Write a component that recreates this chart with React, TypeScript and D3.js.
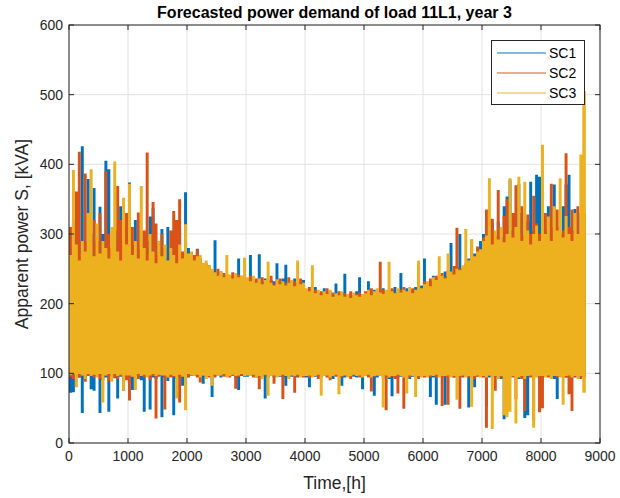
import React from 'react';
import * as d3 from 'd3';

// ---- data (per 50-hour bin: upper / lower envelope of each series, kVA) ----
const BIN_HOURS = 50;
const LAST_HOUR = 8760;

const seriesNames = ['SC1', 'SC2', 'SC3'];
const seriesColors = ['#0072BD', '#D95319', '#EDB120'];

const xTicks = [0, 1000, 2000, 3000, 4000, 5000, 6000, 7000, 8000, 9000];
const yTicks = [0, 100, 200, 300, 400, 500, 600];

const sc1Hi = [
  280, 320, 270, 290, 426, 265, 379, 300, 366, 275, 339, 300, 405, 393, 270, 290, 305, 340, 268, 310,
  374, 285, 320, 270, 305, 262, 290, 325, 337, 270, 290, 307, 265, 310, 275, 290, 262, 305, 272, 360,
  280, 262, 268, 279, 265, 255, 258, 248, 244, 291, 240, 246, 236, 242, 238, 240, 236, 265, 240, 238,
  236, 270, 234, 228, 271, 232, 236, 228, 234, 232, 258, 230, 236, 256, 228, 232, 236, 230, 226, 234,
  220, 215, 218, 224, 216, 214, 222, 215, 218, 214, 229, 212, 216, 243, 212, 215, 210, 218, 238, 212,
  212, 232, 218, 220, 216, 214, 222, 218, 214, 220, 224, 216, 244, 218, 222, 216, 220, 224, 218, 226,
  265, 228, 232, 240, 236, 242, 238, 246, 240, 287, 246, 252, 300, 250, 256, 265, 262, 272, 268, 290,
  300, 292, 322, 316, 290, 318, 295, 340, 354, 378, 305, 290, 372, 330, 298, 318, 375, 305, 385, 382,
  330, 305, 340, 300, 371, 310, 295, 340, 371, 385, 305, 336, 295, 330, 300,
];
const sc1Lo = [
  72, 73, 95, 94, 43, 92, 96, 77, 75, 95, 43, 90, 94, 45, 96, 93, 64, 95, 75, 94,
  88, 76, 96, 93, 90, 45, 95, 48, 94, 92, 96, 37, 94, 89, 95, 40, 92, 94, 82, 95,
  94, 96, 97, 95, 96, 85, 95, 96, 66, 96, 97, 94, 96, 95, 97, 96, 94, 76, 96, 95,
  95, 97, 96, 94, 96, 96, 64, 95, 97, 94, 96, 95, 94, 82, 97, 95, 96, 94, 97, 95,
  94, 80, 96, 95, 96, 94, 97, 95, 96, 92, 97, 95, 82, 94, 96, 97, 95, 94, 96, 77,
  96, 95, 97, 68, 94, 96, 97, 95, 92, 67, 97, 94, 95, 97, 96, 92, 95, 97, 94, 95,
  97, 95, 66, 94, 55, 96, 95, 55, 96, 97, 94, 95, 97, 94, 96, 51, 95, 80, 97, 96,
  96, 53, 94, 97, 95, 94, 92, 34, 95, 94, 97, 95, 92, 94, 36, 40, 95, 94, 97, 92,
  94, 95, 96, 94, 92, 63, 95, 97, 94, 95, 96, 94, 95, 97, 95,
];
const sc2Hi = [
  310, 275, 361, 418, 272, 387, 290, 268, 320, 290, 330, 270, 390, 300, 280, 262, 369, 320, 290, 330,
  290, 310, 265, 331, 278, 305, 417, 270, 346, 315, 268, 300, 280, 262, 305, 333, 320, 350, 275, 290,
  268, 274, 270, 278, 262, 258, 250, 255, 246, 240, 250, 238, 244, 236, 240, 245, 238, 242, 236, 240,
  232, 240, 228, 236, 230, 238, 226, 232, 240, 228, 232, 236, 226, 230, 238, 224, 232, 228, 236, 226,
  218, 224, 214, 220, 212, 218, 215, 222, 212, 216, 210, 218, 212, 215, 210, 218, 212, 214, 216, 210,
  218, 214, 222, 216, 212, 260, 220, 216, 218, 222, 216, 214, 220, 224, 216, 218, 222, 216, 256, 218,
  232, 226, 236, 230, 240, 236, 244, 238, 248, 242, 254, 309, 250, 246, 258, 262, 291, 264, 282, 275,
  295, 335, 300, 322, 298, 363, 290, 326, 350, 300, 330, 370, 300, 340, 295, 328, 300, 355, 315, 300,
  305, 330, 295, 372, 310, 335, 300, 305, 416, 310, 335, 300, 340, 295, 330,
];
const sc2Lo = [
  95, 92, 97, 94, 97, 88, 96, 97, 94, 97, 92, 95, 97, 89, 97, 94, 92, 96, 95, 90,
  61, 96, 97, 92, 97, 94, 95, 90, 96, 35, 95, 97, 48, 96, 94, 95, 97, 58, 96, 94,
  95, 97, 96, 94, 87, 96, 97, 94, 97, 94, 96, 97, 95, 97, 94, 96, 78, 95, 97, 97,
  97, 96, 94, 97, 77, 95, 97, 94, 96, 85, 95, 97, 63, 96, 94, 97, 72, 95, 97, 94,
  97, 94, 96, 97, 92, 95, 97, 94, 90, 96, 95, 97, 94, 97, 95, 92, 97, 96, 94, 95,
  97, 94, 74, 95, 96, 97, 94, 47, 96, 95, 92, 71, 97, 49, 95, 94, 97, 95, 92, 96,
  94, 97, 95, 96, 94, 97, 53, 95, 55, 97, 94, 96, 49, 95, 97, 94, 96, 92, 95, 97,
  94, 22, 96, 95, 75, 97, 94, 95, 92, 96, 94, 63, 95, 92, 46, 96, 94, 33, 95, 44,
  50, 96, 94, 95, 97, 94, 96, 95, 94, 70, 46, 95, 97, 92, 94,
];
const sc3Hi = [
  270, 392, 285, 262, 290, 275, 330, 393, 268, 315, 272, 290, 280, 265, 310, 404, 275, 262, 352, 285,
  372, 270, 290, 265, 369, 280, 262, 300, 275, 258, 290, 268, 285, 262, 280, 270, 258, 285, 265, 314,
  272, 275, 262, 268, 270, 258, 262, 255, 250, 245, 240, 246, 238, 270, 242, 236, 244, 238, 240, 266,
  238, 232, 240, 230, 236, 228, 234, 260, 230, 226, 235, 228, 232, 226, 230, 234, 225, 262, 228, 230,
  222, 218, 255, 215, 220, 212, 218, 214, 220, 210, 215, 212, 218, 210, 214, 208, 216, 212, 210, 214,
  215, 220, 212, 218, 222, 216, 214, 220, 260, 218, 215, 222, 216, 220, 218, 224, 215, 220, 262, 222,
  228, 232, 225, 238, 234, 268, 240, 236, 272, 246, 242, 250, 248, 255, 307, 262, 293, 268, 275, 278,
  290, 298, 380, 285, 305, 292, 310, 288, 300, 380, 295, 310, 382, 290, 375, 305, 285, 300, 312, 290,
  428, 300, 325, 290, 340, 305, 380, 295, 326, 300, 290, 330, 300, 414, 505,
];
const sc3Lo = [
  98, 99, 80, 99, 97, 92, 99, 96, 98, 94, 99, 58, 97, 99, 88, 99, 96, 98, 75, 97,
  97, 95, 76, 99, 96, 98, 94, 97, 99, 96, 98, 97, 97, 94, 98, 96, 64, 98, 95, 47,
  99, 97, 96, 98, 94, 97, 92, 96, 82, 98, 96, 97, 99, 94, 96, 98, 96, 97, 99, 96,
  97, 96, 98, 94, 96, 92, 98, 68, 96, 97, 94, 96, 98, 96, 92, 97, 96, 98, 94, 96,
  96, 97, 94, 96, 98, 68, 96, 97, 94, 96, 98, 70, 96, 97, 94, 96, 98, 96, 97, 94,
  96, 98, 94, 96, 97, 96, 51, 97, 94, 96, 96, 98, 96, 94, 71, 97, 96, 66, 96, 94,
  96, 94, 97, 96, 98, 94, 96, 96, 97, 94, 96, 62, 96, 97, 94, 96, 52, 96, 97, 94,
  96, 94, 97, 20, 96, 92, 96, 40, 37, 45, 96, 28, 94, 96, 92, 96, 97, 22, 94, 96,
  96, 94, 97, 92, 96, 96, 94, 55, 96, 97, 94, 96, 92, 96, 72,
];

const seriesHi = [sc1Hi, sc2Hi, sc3Hi];
const seriesLo = [sc1Lo, sc2Lo, sc3Lo];

// ---- layout ----
const W = 620;
const H = 498;
const PL = 69, PR = 600, PT = 25, PB = 443;
const FONT = '"Liberation Sans", Arial, Helvetica, sans-serif';
const AXIS = '#262626';

type Pt = { t: number; hi: number; lo: number };

export default function App() {
  const x = d3.scaleLinear().domain([0, 9000]).range([PL, PR]);
  const y = d3.scaleLinear().domain([0, 600]).range([PB, PT]);
  const tick = 5;

  const area = d3
    .area<Pt>()
    .x((d) => x(d.t))
    .y0((d) => y(d.lo))
    .y1((d) => y(d.hi))
    .curve(d3.curveStepAfter);

  const paths = seriesHi.map((hi, s) => {
    const pts: Pt[] = hi.map((h, i) => ({ t: i * BIN_HOURS, hi: h, lo: seriesLo[s][i] }));
    const last = pts[pts.length - 1];
    pts.push({ t: LAST_HOUR, hi: last.hi, lo: last.lo });
    return area(pts) || '';
  });

  return (
    <svg
      width={W}
      height={H}
      viewBox={`0 0 ${W} ${H}`}
      style={{ position: 'absolute', left: 0, top: 0, display: 'block', background: '#fff' }}
      fontFamily={FONT}
    >
      <rect x={0} y={0} width={W} height={H} fill="#fff" />
      {/* grid */}
      <g stroke="#e2e2e2" strokeWidth={1}>
        {xTicks.map((t) => (
          <line key={`gx${t}`} x1={x(t)} x2={x(t)} y1={PT} y2={PB} />
        ))}
        {yTicks.map((t) => (
          <line key={`gy${t}`} x1={PL} x2={PR} y1={y(t)} y2={y(t)} />
        ))}
      </g>
      {/* data */}
      {paths.map((d, s) => (
        <path key={`s${s}`} d={d} fill={seriesColors[s]} stroke="none" />
      ))}
      {/* axes box & ticks */}
      <rect x={PL} y={PT} width={PR - PL} height={PB - PT} fill="none" stroke={AXIS} strokeWidth={1} />
      <g stroke={AXIS} strokeWidth={1}>
        {xTicks.map((t) => (
          <g key={`tx${t}`}>
            <line x1={x(t)} x2={x(t)} y1={PB} y2={PB - tick} />
            <line x1={x(t)} x2={x(t)} y1={PT} y2={PT + tick} />
          </g>
        ))}
        {yTicks.map((t) => (
          <g key={`ty${t}`}>
            <line x1={PL} x2={PL + tick} y1={y(t)} y2={y(t)} />
            <line x1={PR} x2={PR - tick} y1={y(t)} y2={y(t)} />
          </g>
        ))}
      </g>
      {/* tick labels */}
      <g fill={AXIS} fontSize={14}>
        {xTicks.map((t) => (
          <text key={`lx${t}`} x={x(t)} y={PB + 18} textAnchor="middle">
            {t}
          </text>
        ))}
        {yTicks.map((t) => (
          <text key={`ly${t}`} x={PL - 6} y={y(t) + 5} textAnchor="end">
            {t}
          </text>
        ))}
      </g>
      {/* axis labels */}
      <text x={(PL + PR) / 2} y={489} textAnchor="middle" fontSize={17.5} fill={AXIS}>
        Time,[h]
      </text>
      <text
        transform={`translate(${28},${(PT + PB) / 2}) rotate(-90)`}
        textAnchor="middle"
        fontSize={17.5}
        fill={AXIS}
      >
        Apparent power S, [kVA]
      </text>
      {/* title */}
      <text x={(PL + PR) / 2} y={18} textAnchor="middle" fontSize={16} fontWeight="bold" fill="#000">
        Forecasted power demand of load 11L1, year 3
      </text>
      {/* legend */}
      <g>
        <rect x={491.5} y={40.5} width={93} height={64} fill="#fff" stroke={AXIS} strokeWidth={1} />
        {seriesNames.map((name, i) => (
          <g key={name}>
            <line
              x1={497}
              x2={546}
              y1={53 + i * 20}
              y2={53 + i * 20}
              stroke={seriesColors[i]}
              strokeOpacity={0.65}
              strokeWidth={1.5}
            />
            <text x={549} y={53 + i * 20 + 5} fontSize={14} fill="#000">
              {name}
            </text>
          </g>
        ))}
      </g>
    </svg>
  );
}
